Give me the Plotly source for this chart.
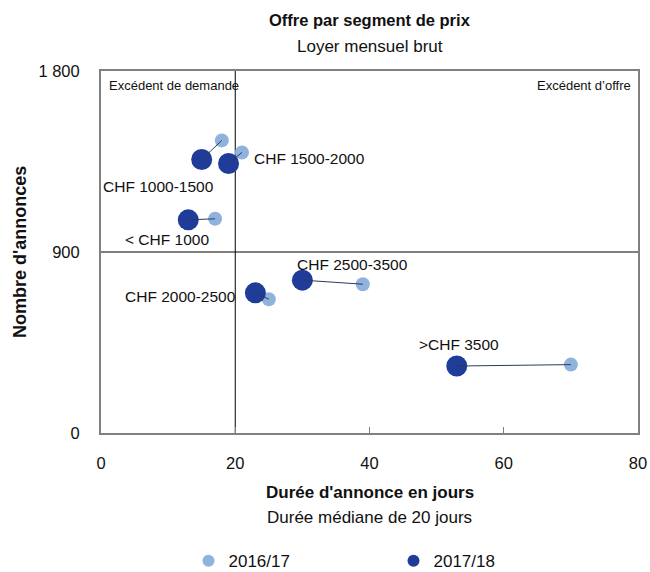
import plotly.graph_objects as go

categories = ["CHF 1000-1500", "CHF 1500-2000", "< CHF 1000", "CHF 2500-3500", "CHF 2000-2500", ">CHF 3500"]
days_1617 = [18, 21, 17, 39, 25, 70]
ads_1617 = [1455, 1395, 1065, 740, 665, 340]
days_1718 = [15, 19, 13, 30, 23, 53]
ads_1718 = [1360, 1340, 1060, 760, 697, 333]
# label positions (data coords)
label_x = [8.6, 22.5, 9.9, 37.5, 11.9, 53.3]
label_y = [1228, 1367, 960, 840, 681, 442]
label_anchor = ["center", "left", "center", "center", "center", "center"]

FONT = "Liberation Sans Narrow, Arial Narrow, Liberation Sans, Arial"
LIGHT = "#8fb3dc"
DARK = "#1f3c98"
TXT = "#111111"

fig = go.Figure()
fig.add_trace(go.Scatter(x=days_1617, y=ads_1617, mode="markers", name="2016/17",
                         marker=dict(color=LIGHT, size=14, line=dict(width=0))))
fig.add_trace(go.Scatter(x=days_1718, y=ads_1718, mode="markers", name="2017/18",
                         marker=dict(color=DARK, size=21, line=dict(width=0))))
lx, ly = [], []
for a, b, c, d in zip(days_1718, ads_1718, days_1617, ads_1617):
    lx += [a, c, None]
    ly += [b, d, None]
fig.add_trace(go.Scatter(x=lx, y=ly, mode="lines", showlegend=False,
                         line=dict(color="#2b3a5c", width=1), hoverinfo="skip"))

for t, x, y, anc in zip(categories, label_x, label_y, label_anchor):
    fig.add_annotation(x=x, y=y, text=t, showarrow=False, xanchor=anc, yanchor="middle",
                       font=dict(size=15.5, color=TXT, family=FONT))

fig.add_shape(type="line", x0=0, x1=80, y0=900, y1=900, line=dict(color="black", width=1), layer="below")
fig.add_shape(type="line", x0=20, x1=20, y0=0, y1=1800, line=dict(color="black", width=1), layer="below")

fig.add_annotation(xref="paper", yref="paper", x=0.012, y=0.985, text="Excédent de demande",
                   showarrow=False, xanchor="left", yanchor="top", font=dict(size=13, family=FONT, color=TXT))
fig.add_annotation(xref="paper", yref="paper", x=0.99, y=0.985, text="Excédent d’offre",
                   showarrow=False, xanchor="right", yanchor="top", font=dict(size=13, family=FONT, color=TXT))

fig.add_annotation(xref="paper", yref="paper", x=0.5, y=1.0, yshift=51, text="<b>Offre par segment de prix</b>",
                   showarrow=False, xanchor="center", yanchor="middle", font=dict(size=16.5, family=FONT, color=TXT))
fig.add_annotation(xref="paper", yref="paper", x=0.5, y=1.0, yshift=25, text="Loyer mensuel brut",
                   showarrow=False, xanchor="center", yanchor="middle", font=dict(size=17, family=FONT, color=TXT))
fig.add_annotation(xref="paper", yref="paper", x=0.5, y=0, yshift=-59, text="<b>Durée d'annonce en jours</b>",
                   showarrow=False, xanchor="center", yanchor="middle", font=dict(size=17, family=FONT, color=TXT))
fig.add_annotation(xref="paper", yref="paper", x=0.5, y=0, yshift=-84, text="Durée médiane de 20 jours",
                   showarrow=False, xanchor="center", yanchor="middle", font=dict(size=17, family=FONT, color=TXT))
fig.add_annotation(xref="paper", yref="paper", x=0, xshift=-81, y=0.5, text="<b>Nombre d'annonces</b>", textangle=-90,
                   showarrow=False, xanchor="center", yanchor="middle", font=dict(size=18, family=FONT, color=TXT))

fig.update_xaxes(range=[0, 80], tickvals=[0, 20, 40, 60, 80], ticks="inside", ticklen=6, tickcolor="#808080",
                 showgrid=False, zeroline=False, showline=True, linecolor="#808080", linewidth=2, mirror=True,
                 tickfont=dict(size=16.5, family=FONT, color=TXT), ticklabelstandoff=14, automargin=False)
fig.update_yaxes(range=[0, 1800], tickvals=[0, 900, 1800], ticktext=["0", "900", "1 800"], ticks="",
                 showgrid=False, zeroline=False, showline=True, linecolor="#808080", linewidth=2, mirror=True,
                 tickfont=dict(size=16.5, family=FONT, color=TXT), ticklabelstandoff=16, automargin=False)

fig.update_layout(width=650, height=572, margin=dict(l=101, r=12, t=71, b=139, autoexpand=False),
                  plot_bgcolor="white", paper_bgcolor="white", font=dict(family=FONT),
                  legend=dict(orientation="h", x=0.29, xanchor="left", xref="container",
                              y=0.019, yanchor="middle", yref="container",
                              entrywidth=160, font=dict(size=17, family=FONT, color=TXT),
                              itemsizing="constant", traceorder="normal"),
                  showlegend=True)
fig.write_html("out.html", config={"displayModeBar": False},
               post_script="document.body.style.margin='0';document.body.style.overflow='hidden';")
